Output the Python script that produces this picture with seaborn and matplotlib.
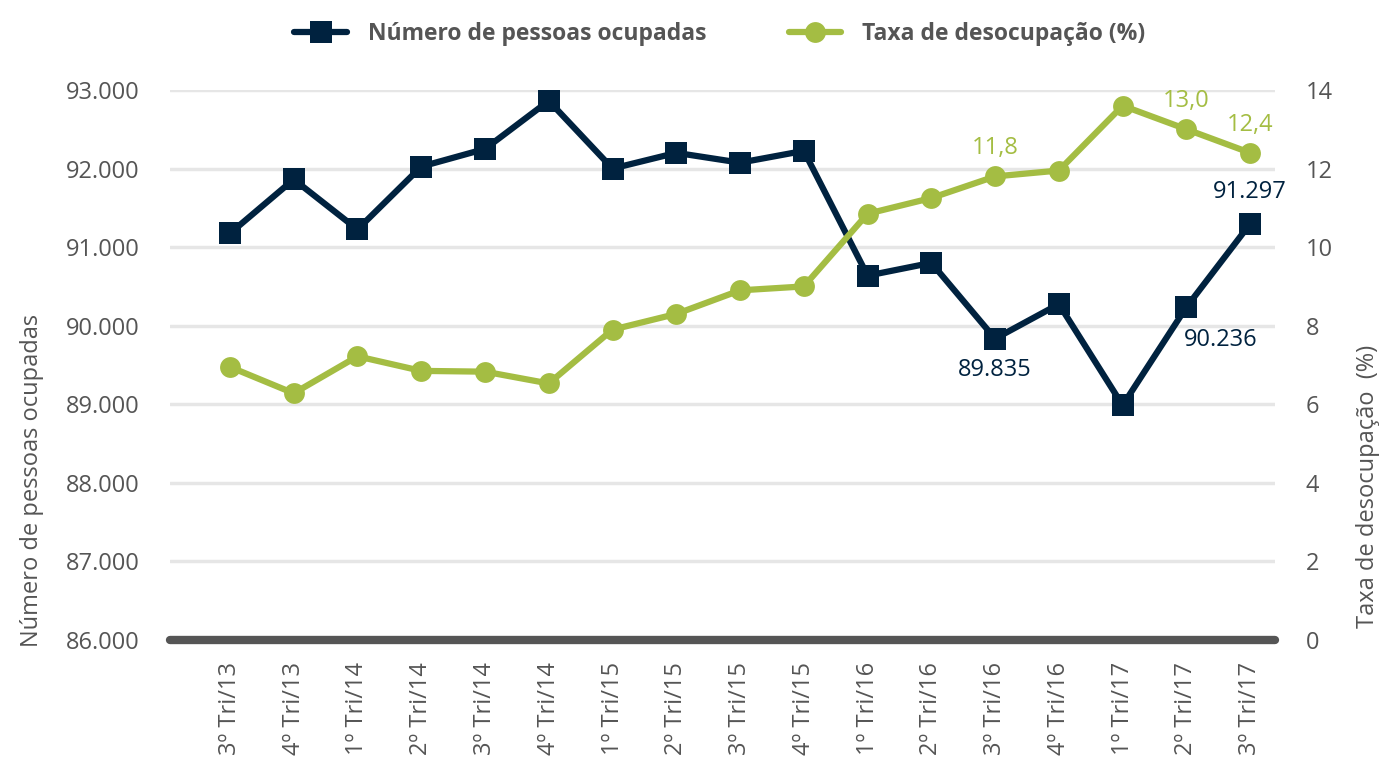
import numpy as np
import pandas as pd
import seaborn as sns
import matplotlib.pyplot as plt
from matplotlib.lines import Line2D

# dados
trimestres = ['3º Tri/13', '4º Tri/13', '1º Tri/14', '2º Tri/14', '3º Tri/14', '4º Tri/14',
              '1º Tri/15', '2º Tri/15', '3º Tri/15', '4º Tri/15', '1º Tri/16', '2º Tri/16',
              '3º Tri/16', '4º Tri/16', '1º Tri/17', '2º Tri/17', '3º Tri/17']
ocupados = [91175, 91862, 91225, 92025, 92250, 92862, 92000, 92200, 92075, 92225,
            90637, 90800, 89835, 90275, 88987, 90236, 91297]
desocupacao = [6.95, 6.28, 7.22, 6.85, 6.83, 6.53, 7.9, 8.3, 8.9, 9.0,
               10.85, 11.25, 11.8, 11.95, 13.6, 13.0, 12.4]

left_ticks = [86000, 87000, 88000, 89000, 90000, 91000, 92000, 93000]
right_ticks = [0, 2, 4, 6, 8, 10, 12, 14]

navy = '#00223f'
green = '#a4bd43'
gray = '#555555'

sns.set_theme(style='white')
plt.rcParams['font.family'] = ['Open Sans', 'DejaVu Sans']

df = pd.DataFrame({'pos': np.arange(len(trimestres)), 'ocupados': ocupados, 'taxa': desocupacao})

fig = plt.figure(figsize=(13.79, 7.6), dpi=100)
ax = fig.add_axes([0.1233, 0.1579, 0.8013, 0.7237])
ax2 = ax.twinx()

sns.lineplot(data=df, x='pos', y='ocupados', ax=ax, color=navy, linewidth=4.5,
             marker='s', markersize=16, markeredgewidth=0, clip_on=False, zorder=3)
sns.lineplot(data=df, x='pos', y='taxa', ax=ax2, color=green, linewidth=4.5,
             marker='o', markersize=15, markeredgewidth=0, clip_on=False, zorder=3)

ax.set_xlim(-0.94, 16.39)
ax.set_ylim(left_ticks[0], left_ticks[-1])
ax2.set_ylim(right_ticks[0], right_ticks[-1])
ax.set_yticks(left_ticks)
ax.set_yticklabels([f'{v:,}'.replace(',', '.') for v in left_ticks])
ax2.set_yticks(right_ticks)
ax2.set_yticklabels([str(v) for v in right_ticks])
ax.set_xticks(df['pos'])
ax.set_xticklabels(trimestres, rotation=90, va='top')

for v in left_ticks[1:]:
    ax.axhline(v, color='#e6e6e6', linewidth=2.5, zorder=0)
ax.axhline(left_ticks[0], color=gray, linewidth=6, solid_capstyle='round', zorder=4, clip_on=False)

for a in (ax, ax2):
    for s in a.spines.values():
        s.set_visible(False)
    a.tick_params(axis='y', length=0, labelsize=17, labelcolor=gray, pad=22)
    a.grid(False)
ax.tick_params(axis='x', length=0, labelsize=17, labelcolor=gray, pad=16)

ax.set_xlabel('')
ax.set_ylabel('Número de pessoas ocupadas', fontsize=17, color=gray)
ax2.set_ylabel('Taxa de desocupação  (%)', fontsize=17, color=gray)
ax.yaxis.set_label_coords(-0.114, 0.29)
ax2.yaxis.set_label_coords(1.073, 0.28)

# rótulos de valores
for i, dx, dy in [(12, 0, -31), (15, 34, -33), (16, 0, 32)]:
    ax.annotate(f'{ocupados[i]:,}'.replace(',', '.'), (i, ocupados[i]), xytext=(dx, dy),
                textcoords='offset pixels', ha='center', va='center',
                fontsize=17, color=navy)
for i in (12, 15, 16):
    ax2.annotate(f'{desocupacao[i]:.1f}'.replace('.', ','), (i, desocupacao[i]), xytext=(0, 28),
                 textcoords='offset pixels', ha='center', va='center', fontsize=17, color=green)

handles = [Line2D([], [], color=navy, linewidth=4.5, marker='s', markersize=16, markeredgewidth=0),
           Line2D([], [], color=green, linewidth=4.5, marker='o', markersize=15, markeredgewidth=0)]
fig.legend(handles, ['Número de pessoas ocupadas', 'Taxa de desocupação (%)'], loc='center',
           bbox_to_anchor=(0.522, 0.955), ncol=2, frameon=False, handlelength=2.3,
           columnspacing=3.6, handletextpad=0.9, prop={'weight': 'bold', 'size': 16.5}, labelcolor=gray)

fig.savefig('out.png', dpi=100)
